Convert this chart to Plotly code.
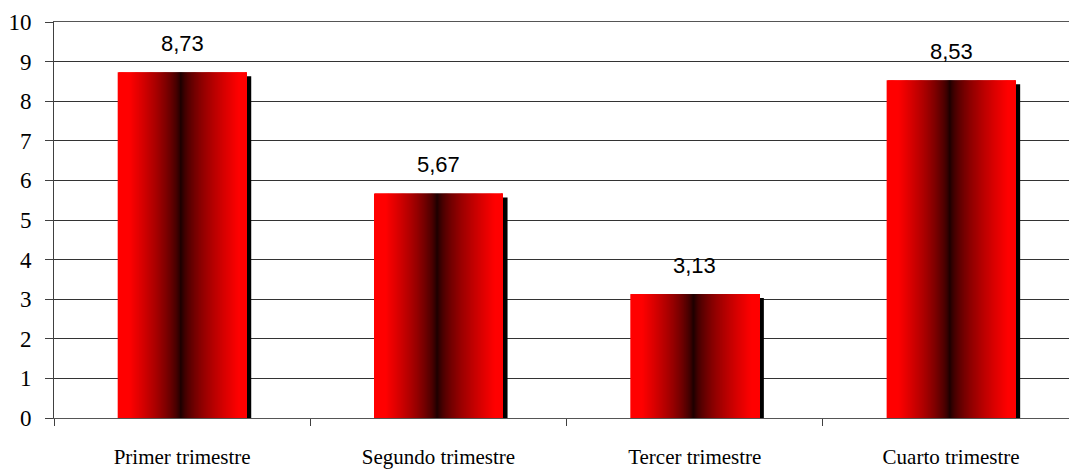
import plotly.graph_objects as go

categories = ["Primer trimestre", "Segundo trimestre", "Tercer trimestre", "Cuarto trimestre"]
values = [8.73, 5.67, 3.13, 8.53]
value_labels = ["8,73", "5,67", "3,13", "8,53"]
y_ticks = list(range(0, 11))

BAR_W = 0.503
N = 120

fig = go.Figure()

# drop shadow
fig.add_trace(go.Bar(
    x=categories, y=[v - 0.1 for v in values],
    width=BAR_W, offset=-BAR_W / 2 + 0.018,
    marker=dict(color="black", line_width=0),
    hoverinfo="skip", showlegend=False,
))

def shade(t):
    c = 0.49
    if t < c:
        d = (c - t) / (c - 0.09)
    else:
        d = (t - c) / (0.94 - c)
    d = max(0.0, min(1.0, d))
    r = int(round(22 + 233 * d ** 0.65))
    return f"rgb({r},0,0)"

step = BAR_W / N
for i in range(N):
    t = (i + 0.5) / N
    fig.add_trace(go.Bar(
        x=categories, y=values,
        width=step * 2.0 if i < N - 1 else step,
        offset=-BAR_W / 2 + i * step,
        marker=dict(color=shade(t), line_width=0),
        hoverinfo="skip", showlegend=False,
    ))

for cat, v, lab in zip(categories, values, value_labels):
    fig.add_annotation(
        x=cat, y=v, text=lab, showarrow=False,
        yanchor="bottom", yshift=14,
        font=dict(family="Liberation Sans", size=22, color="black"),
    )

fig.update_layout(
    width=1069, height=471,
    margin=dict(l=54, r=0, t=22, b=53),
    barmode="overlay",
    plot_bgcolor="white", paper_bgcolor="white",
    showlegend=False,
    xaxis=dict(
        type="category", range=[-0.5, 3.46], automargin=False,
        showline=True, mirror=True, linecolor="#555555", linewidth=1,
        ticks="outside", tickson="boundaries", ticklen=7, tickcolor="#404040",
        tickfont=dict(family="Liberation Serif", size=21, color="black"),
        ticklabelstandoff=20, showgrid=False,
    ),
    yaxis=dict(
        range=[0, 10], tickvals=y_ticks, ticktext=[str(v) for v in y_ticks],
        automargin=False,
        showgrid=True, gridcolor="#333333", gridwidth=1,
        showline=True, linecolor="#404040", linewidth=1,
        ticks="outside", ticklen=8, tickcolor="#404040",
        tickfont=dict(family="Liberation Serif", size=23, color="black"),
        ticklabelstandoff=9, zeroline=False,
    ),
)

fig.write_html(
    "out.html",
    config={"displayModeBar": False},
    post_script="document.body.style.margin='0';document.body.style.overflow='hidden';",
)
